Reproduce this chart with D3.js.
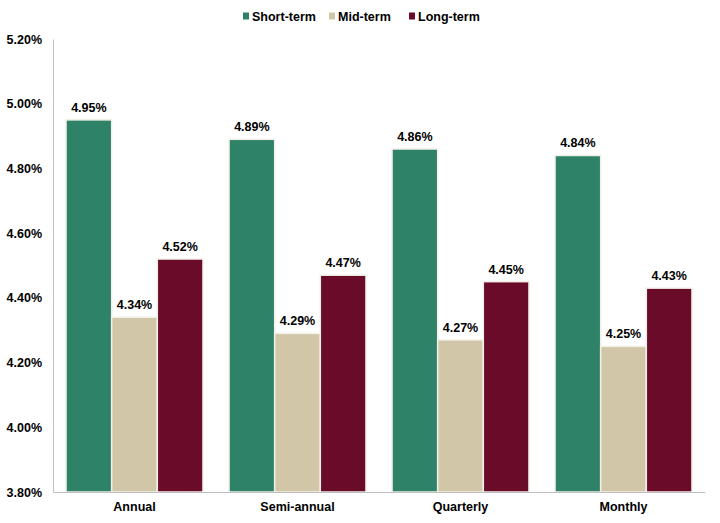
<!DOCTYPE html>
<html><head><meta charset="utf-8">
<script src="https://cdn.jsdelivr.net/npm/d3@7"></script>
<style>body{margin:0;background:#fff}svg{display:block}text{font-family:"Liberation Sans",Arial,sans-serif;font-weight:bold;fill:#000}</style>
</head><body><svg id="c" width="720" height="523"></svg>
<script>
const categories = ["Annual","Semi-annual","Quarterly","Monthly"];
const seriesNames = ["Short-term","Mid-term","Long-term"];
const shortTerm = [4.95,4.89,4.86,4.84];
const midTerm = [4.34,4.29,4.27,4.25];
const longTerm = [4.52,4.47,4.45,4.43];
const yTicks = [3.8,4.0,4.2,4.4,4.6,4.8,5.0,5.2];
const colors = ["#2e8268","#d1c7a8","#6b0b2a"];
const series = [shortTerm, midTerm, longTerm];

const svg = d3.select("#c");
const m = {l:53, r:15, t:39, b:31};
const W = 720, H = 523;
const x0 = d3.scaleBand().domain(categories).range([m.l, W-m.r]).paddingInner(0.16).paddingOuter(0.08);
const x1 = d3.scaleBand().domain(seriesNames).range([0, x0.bandwidth()]).padding(0.0);
const y = d3.scaleLinear().domain([3.8,5.2]).range([H-m.b, m.t]);

const g = svg.append("g");
categories.forEach((c,i)=>{
  seriesNames.forEach((s,j)=>{
    const v = series[j][i];
    g.append("rect").attr("x", x0(c)+x1(s)).attr("y", y(v))
      .attr("width", x1.bandwidth()).attr("height", y(3.8)-y(v))
      .attr("fill", colors[j]).attr("stroke","#f2efe6").attr("stroke-width",1.5);
    g.append("text").attr("x", x0(c)+x1(s)+x1.bandwidth()/2).attr("y", y(v)-8)
      .attr("text-anchor","middle").attr("font-size",12.5).text(v.toFixed(2)+"%");
  });
});

// y axis
const ya = svg.append("g").attr("transform",`translate(${m.l},0)`)
  .call(d3.axisLeft(y).tickValues(yTicks).tickSize(0).tickPadding(11).tickFormat(d=>d.toFixed(2)+"%"));
ya.select(".domain").attr("stroke","#bfbfbf");
ya.selectAll("text").attr("font-size",12.5).style("font-family","Liberation Sans, Arial").style("font-weight","bold");

// x axis
const xa = svg.append("g").attr("transform",`translate(0,${H-m.b})`)
  .call(d3.axisBottom(x0).tickSize(0).tickPadding(10).tickSizeOuter(0));
xa.select(".domain").attr("stroke","#bfbfbf");
xa.selectAll("text").attr("font-size",12.5).style("font-family","Liberation Sans, Arial").style("font-weight","bold");

// legend
const legX = [243, 329, 409];
seriesNames.forEach((s,j)=>{
  const lg = svg.append("g").attr("transform",`translate(${legX[j]},16)`);
  lg.append("rect").attr("x",0).attr("y",-3.5).attr("width",6).attr("height",7).attr("fill",colors[j]);
  lg.append("text").attr("x",9).attr("y",4.5).attr("font-size",12.5).text(s);
});
</script></body></html>
